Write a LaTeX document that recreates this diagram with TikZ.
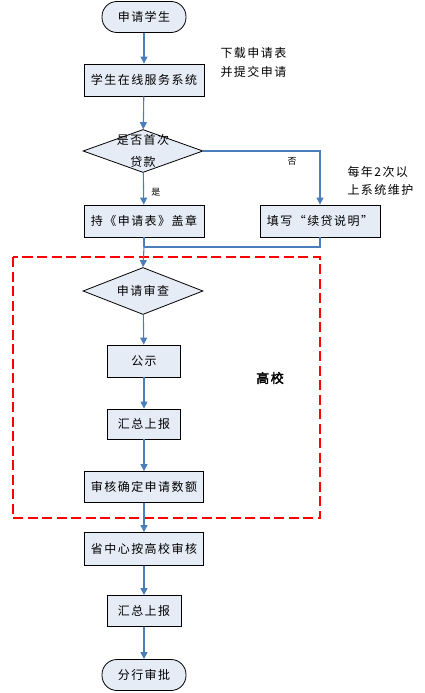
\documentclass[tikz,border=0pt]{standalone}
\usepackage{fontspec}
\setmainfont[LetterSpace=12,AutoFakeBold=2.5]{Noto Sans CJK SC}
\usepackage{xcolor}
\usetikzlibrary{arrows.meta,shapes.geometric}
\definecolor{flowblue}{HTML}{4A7EBB}
\definecolor{boxfill}{HTML}{E6ECF6}
\definecolor{zonered}{HTML}{FF0000}

\begin{document}
\begin{tikzpicture}[x=1pt,y=-1pt,font=\fontsize{12}{14}\selectfont,
  box/.style={draw=black,line width=.8pt,fill=boxfill,inner sep=0pt,minimum height=32,minimum width=120},
  smallbox/.style={box,minimum width=73},
  term/.style={box,rounded corners=15,minimum width=84,minimum height=31},
  decide/.style={draw=black,line width=.8pt,fill=boxfill,diamond,aspect=2.5,inner sep=0pt,minimum width=120},
  flow/.style={flowblue,line width=1.1pt,-{Triangle[width=7pt,length=7pt]}},
  line/.style={flowblue,line width=1.1pt},
  yesno/.style={text=black,font=\fontsize{9}{10}\selectfont},
  note/.style={align=left,anchor=west}]
  \useasboundingbox (0,0) rectangle (425,693);
  % zone of the school
  \draw[zonered,line width=2.4pt,dash pattern=on 10pt off 4.5pt] (13,257) rectangle (320,518);
  \node[font=\fontsize{13}{15}\selectfont\bfseries] (school) at (270,378) {高校};
  % main column
  \node[term] (start) at (144,17) {申请学生};
  \node[box] (sys) at (144,80) {学生在线服务系统};
  \node[decide,minimum height=43,label={[align=center,font=\fontsize{12}{22}\selectfont]center:是否首次\\贷款}] (first) at (143,151) {};
  \node[box] (hold) at (144,221) {持《申请表》盖章};
  \node[box] (fill) at (320,221) {填写“续贷说明”};
  \coordinate (merge) at (144,247);
  \node[decide,minimum height=47] (review) at (143,291) {申请审查};
  \node[smallbox] (pub) at (144,361) {公示};
  \node[smallbox,minimum height=30] (sum1) at (144,424) {汇总上报};
  \node[box,minimum width=119,minimum height=31] (confirm) at (144,487) {审核确定申请数额};
  \node[box,minimum width=119,minimum height=33] (prov) at (144,549) {省中心按高校审核};
  \node[smallbox,minimum width=74,minimum height=31] (sum2) at (144,611) {汇总上报};
  \node[term] (approve) at (144,675) {分行审批};
  % side notes
  \node[note,font=\fontsize{12}{19}\selectfont] (dl) at (217,62) {下载申请表\\并提交申请};
  \node[note,font=\fontsize{12}{18}\selectfont] (twice) at (344,181) {每年2次以\\上系统维护};
  % connectors
  \foreach \a/\b in {start/sys,sys/first,review/pub,pub/sum1,sum1/confirm,confirm/prov,prov/sum2,sum2/approve}
    \draw[flow] (\a) -- (\b);
  \draw[flow] (first) -- node[pos=.62,right=4pt,yesno] {是} (hold);
  \draw[flow] (first.east) -| node[pos=.38,below=3pt,yesno] {否} (fill.north);
  \draw[line] (hold.south) -- (merge);
  \draw[line] (fill.south) |- (merge);
  \draw[flow] (merge) -- (review.north);
\end{tikzpicture}
\end{document}
